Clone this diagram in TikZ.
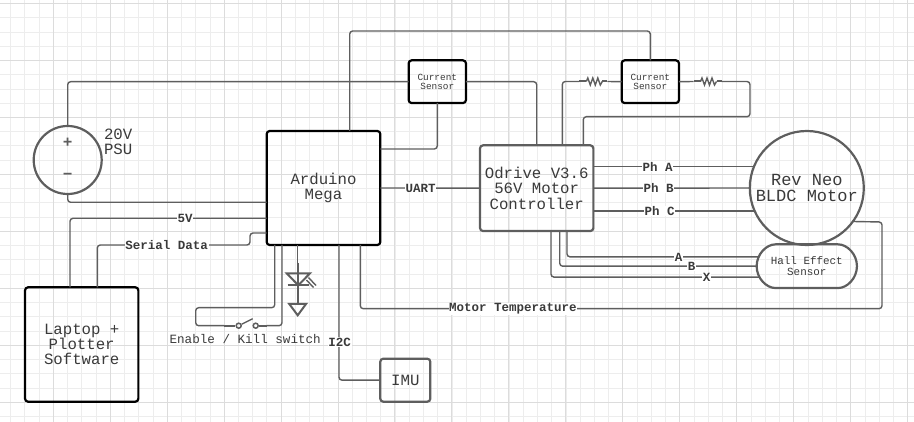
\documentclass[tikz,border=0pt]{standalone}
\usepackage{fontspec}
\setmainfont{Liberation Mono}
\usetikzlibrary{shapes.misc,calc}
\definecolor{wiregray}{HTML}{5E5E5E}
\definecolor{inkgray}{HTML}{3A3A3A}
\definecolor{gridmajor}{HTML}{DCDCDC}
\definecolor{gridminor}{HTML}{EDEDED}
\tikzset{
    part/.style={rectangle, rounded corners=3pt, draw=wiregray, line width=2.2pt, inner sep=0pt, outer sep=0pt, align=center, text=inkgray},
    mainpart/.style={part, draw=black},
    bigtext/.style={font=\fontsize{15.7}{15.3}\selectfont},
    smalltext/.style={font=\fontsize{9.4}{9}\selectfont},
    wire/.style={draw=wiregray, line width=1.4pt, rounded corners=3pt},
    stub/.style={draw=wiregray, line width=2pt},
    tag/.style={fill=white, inner sep=0.6pt, text=inkgray, font=\fontsize{12.5}{13}\selectfont\bfseries},
    resistor/.pic={
        \coordinate (-a) at (-14,0);
        \coordinate (-b) at (14,0);
        \draw[stub] (-14,0) -- (-7,0);
        \draw[wire, rounded corners=0pt] (-7,0) -- (-5.5,-3.5) -- (-3,3.5) -- (-0.5,-3.5) -- (2,3.5) -- (4.5,-3.5) -- (7,3.5) -- (9,0);
        \draw[stub] (9,0) -- (14,0);
    }
}
\begin{document}
\begin{tikzpicture}[x=1pt, y=-1pt]
    \useasboundingbox (0,0) rectangle (914,422);
    % grid
    \foreach \i in {0,...,64} {
        \draw[gridminor, line width=0.8pt] ({-3.7+14.24*\i},0) -- ({-3.7+14.24*\i},422);
    }
    \foreach \i in {0,...,29} {
        \draw[gridminor, line width=0.8pt] (0,{3.5+14.24*\i}) -- (914,{3.5+14.24*\i});
    }
    \foreach \i in {0,...,16} {
        \draw[gridmajor, line width=1pt] ({-3.7+56.95*\i},0) -- ({-3.7+56.95*\i},422);
    }
    \foreach \i in {0,...,7} {
        \draw[gridmajor, line width=1pt] (0,{3.5+56.95*\i}) -- (914,{3.5+56.95*\i});
    }

    % parts
    \node[part, circle, minimum size=68pt] (psu) at (67.7,160) {};
    \node[part, draw=none, anchor=west, bigtext] (psulabel) at (104,142) {20V\\PSU};
    \node[mainpart, minimum width=113.6pt, minimum height=114pt, bigtext] (arduino) at (323.5,188) {Arduino\\Mega};
    \node[mainpart, minimum width=57.3pt, minimum height=42.7pt, smalltext] (csa) at (437.3,81.7) {Current\\Sensor};
    \node[mainpart, minimum width=57.3pt, minimum height=42.7pt, smalltext] (csb) at (650.3,81.7) {Current\\Sensor};
    \node[part, minimum width=113.3pt, minimum height=85.7pt, bigtext] (odrive) at (536.7,188.2) {Odrive V3.6\\56V Motor\\Controller};
    \node[part, circle, minimum size=114pt, font=\fontsize{17}{16.5}\selectfont] (motor) at (806.8,188) {Rev Neo\\BLDC Motor};
    \node[part, rounded rectangle, minimum width=100.3pt, minimum height=43.7pt, font=\fontsize{10.9}{11}\selectfont] (hall) at (806.8,266.2) {Hall Effect\\Sensor};
    \node[mainpart, minimum width=113.3pt, minimum height=114.4pt, bigtext] (laptop) at (81.7,344.5) {Laptop +\\Plotter\\Software};
    \node[part, minimum width=50pt, minimum height=43pt, bigtext] (imu) at (405.3,380.2) {IMU};
    \node[inner sep=0pt, text=wiregray, font=\fontsize{16}{16}\selectfont\bfseries] (psuplus) at (67.7,143) {+};
    \node[inner sep=0pt, text=wiregray, font=\fontsize{16}{16}\selectfont\bfseries] (psuminus) at (67.7,176.7) {−};

    % resistors, switch
    \pic (ra) at (593.3,81.5) {resistor};
    \pic (rb) at (707.5,81.5) {resistor};
    \node[circle, draw=wiregray, line width=1.5pt, minimum size=5pt, inner sep=0pt] (swa) at (238.7,325.7) {};
    \node[circle, draw=wiregray, line width=1.5pt, minimum size=5pt, inner sep=0pt] (swb) at (255.7,325.7) {};
    \coordinate (swc) at (224,325.7);
    \coordinate (swd) at (266.7,325.7);

    % power
    \draw[wire] (psu.north) |- (csa.west);
    \draw[wire] (psu.south) |- (arduino.west |- 0,202.3);
    \draw[wire] (arduino.north -| 349.7,0) |- (650.3,31) -- (csb.north);
    \draw[wire] (csa.south) |- (arduino.east |- 0,149);
    \draw[wire] (csa.east) -| (odrive.north);
    \draw[wire] (csb.west) -- (ra-b);
    \draw[wire] (ra-a) -| (odrive.north -| 562.3,0);
    \draw[wire] (csb.east) -- (rb-a);
    \draw[wire] (rb-b) -- (750,81.5) -- (750,116.7) -- (583.3,116.7) -- (odrive.north -| 583.3,0);

    % controller to motor
    \draw[wire] (arduino.east) -- (odrive.west);
    \draw[wire] (motor.158.7 -| odrive.east) -- (motor.158.7);
    \draw[wire] (odrive.east) -- (motor.west);
    \draw[wire] (motor.204.1 -| odrive.east) -- (motor.204.1);
    \draw[wire] (odrive.south -| 567,0) |- (hall.169.4);
    \draw[wire] (odrive.south -| 559.7,0) |- (hall.west);
    \draw[wire] (odrive.south -| 551,0) |- (hall.193.2);
    \draw[wire] (arduino.south -| 360.3,0) |- (882,308.7) -- (882,222) -- (motor.-36.6);

    % arduino to the rest
    \draw[wire] (laptop.north -| 70,0) |- (arduino.west |- 0,218.3);
    \draw[wire] (laptop.north -| 97.3,0) |- (250,245) -- (250,233) -- (arduino.west |- 0,233);
    \draw[wire] (arduino.south -| 339,0) |- (imu.west);
    \draw[wire] (arduino.south -| 274.7,0) |- (195.7,307.7) -- (195.7,325.7) -- (swc);
    \draw[wire] (arduino.south -| 282,0) |- (swd);
    \draw[stub] (swc) -- (swa);
    \draw[stub] (swb) -- (swd);
    \draw[wire, rounded corners=0pt] (swa) -- (252.7,318.7);

    % LED and ground
    \draw[wire] (arduino.south -| 297.7,0) -- (297.7,263);
    \draw[stub] (297.7,263) -- (297.7,304);
    \draw[stub] (286.7,273.3) -- (310,273.3) -- (298.3,285.3) -- cycle;
    \draw[stub] (287.5,285.3) -- (308.5,285.3);
    \draw[wire, rounded corners=0pt] (308.5,277.5) -- (316,285.5);
    \draw[wire, rounded corners=0pt] (306.5,280) -- (313.5,287.5);
    \draw[stub] (289.3,304) -- (306,304) -- (297.7,315.3) -- cycle;

    % labels on wires
    \node[tag] (luart) at (420.5,188) {UART};
    \node[tag] (lpha) at (657.5,167.3) {Ph A};
    \node[tag] (lphb) at (658.5,188) {Ph B};
    \node[tag] (lphc) at (659.7,211.3) {Ph C};
    \node[tag] (la) at (678.7,257) {A};
    \node[tag] (lb) at (691.7,266.2) {B};
    \node[tag] (lx) at (706.7,277.3) {X};
    \node[tag] (ltemp) at (513,308.7) {Motor Temperature};
    \node[tag] (lfive) at (185,218.3) {5V};
    \node[tag] (lserial) at (166.7,245) {Serial Data};
    \node[tag] (lbus) at (339.7,342) {I2C};
    \node[text=inkgray, inner sep=0pt, font=\fontsize{12.6}{13}\selectfont] (lswitch) at (245.2,339) {Enable / Kill switch};
\end{tikzpicture}
\end{document}
